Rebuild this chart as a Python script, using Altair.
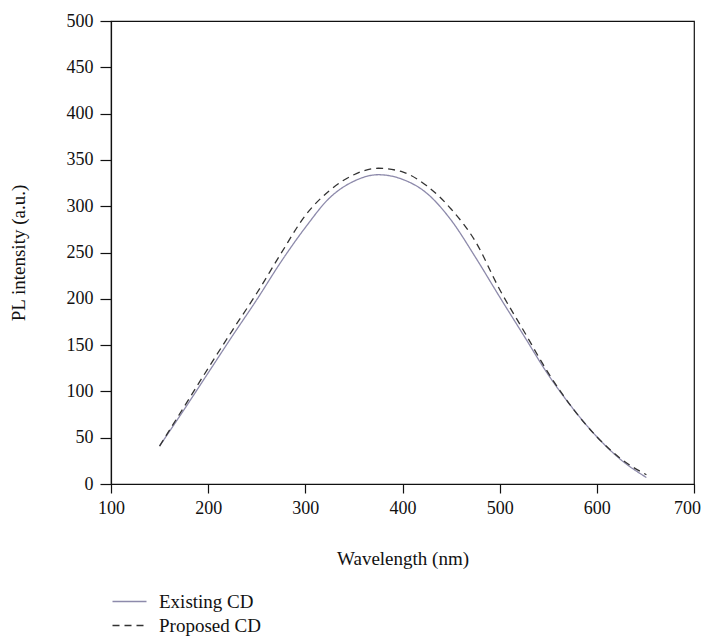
import altair as alt
import pandas as pd

wavelength = [150, 175, 200, 225, 250, 275, 300, 325, 350, 375, 400, 425, 450, 475, 500, 525, 550, 575, 600, 625, 651]
existing = [41, 80, 120, 160, 199, 240, 277, 309, 327, 334, 329, 314, 285, 245, 202, 160, 118, 82, 51, 26, 7]
proposed = [41, 83, 125, 166, 206, 249, 290, 317, 334, 341, 337, 322, 297, 262, 210, 165, 120, 82, 51, 27, 10]
series_names = ["Existing CD", "Proposed CD"]
x_ticks = [100, 200, 300, 400, 500, 600, 700]
y_ticks = [0, 50, 100, 150, 200, 250, 300, 350, 400, 450, 500]

rows = []
for name, vals in zip(series_names, [existing, proposed]):
    for w, v in zip(wavelength, vals):
        rows.append({"wavelength": w, "intensity": v, "series": name})
df = pd.DataFrame(rows)

FONT = "Liberation Serif"

legend_cfg = alt.Legend(
    title=None,
    orient="none",
    legendX=9,
    legendY=571,
    symbolType="M-2,0L2,0",
    symbolSize=289,
    symbolStrokeWidth=1.3,
    labelFont=FONT,
    labelFontSize=19,
    labelColor="#111111",
    labelOffset=20,
    rowPadding=4,
)

chart = alt.Chart(df).mark_line(strokeWidth=1.3, interpolate="monotone").encode(
    x=alt.X("wavelength:Q",
            scale=alt.Scale(domain=[100, 700], nice=False),
            axis=alt.Axis(title="Wavelength (nm)", values=x_ticks, tickSize=9,
                          labelPadding=6, titlePadding=32, grid=False, labelFlush=False,
                          labelOffset={"condition": {"test": "datum.value >= 700", "value": -7}, "value": 0})),
    y=alt.Y("intensity:Q",
            scale=alt.Scale(domain=[0, 500], nice=False),
            axis=alt.Axis(title="PL intensity (a.u.)", values=y_ticks, tickSize=11,
                          labelPadding=7, titlePadding=38, grid=False, labelFlush=False)),
    color=alt.Color("series:N",
                    scale=alt.Scale(domain=series_names, range=["#8d8aab", "#333333"]),
                    legend=legend_cfg),
    strokeDash=alt.StrokeDash("series:N",
                              scale=alt.Scale(domain=series_names, range=[[1, 0], [7, 5]]),
                              legend=legend_cfg),
).properties(
    width=583,
    height=463,
    autosize=alt.AutoSizeParams(type="none"),
    padding={"left": 103, "top": 13, "right": 7, "bottom": 152},
).configure_view(
    stroke="#111111", strokeWidth=1.2
).configure_axis(
    domainColor="#111111", tickColor="#111111", domainWidth=1.2, tickWidth=1.2,
    labelFont=FONT, labelFontSize=18, labelColor="#111111",
    titleFont=FONT, titleFontSize=19, titleFontWeight="normal", titleColor="#111111",
)

chart.save("out.html", embed_options={"renderer": "svg", "actions": False})
